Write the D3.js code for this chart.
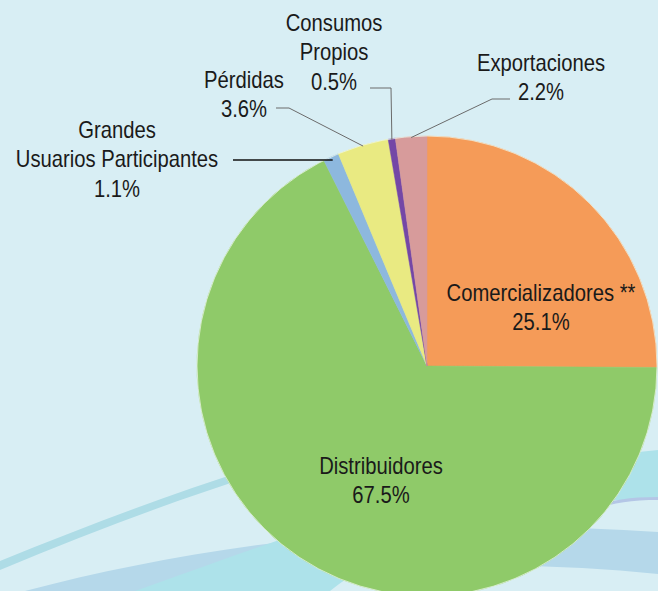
<!DOCTYPE html>
<html>
<head>
<meta charset="utf-8">
<script src="https://cdn.jsdelivr.net/npm/d3@7"></script>
<style>
  html, body { margin: 0; padding: 0; background: #d8eef4; }
  svg { display: block; }
  .lbl { font-family: "Liberation Sans", Arial, sans-serif; font-size: 23px; fill: #1a1a1a; }
</style>
</head>
<body>
<div id="chart"></div>
<script>
// slice data, clockwise from 12 o'clock
var categories = ["Comercializadores", "Distribuidores", "Grandes Usuarios Participantes", "Pérdidas", "Consumos Propios", "Exportaciones"];
var shares = [25.1, 67.5, 1.1, 3.6, 0.5, 2.2];
var labelLines = [
  ["Comercializadores **", "25.1%"],
  ["Distribuidores", "67.5%"],
  ["Grandes", "Usuarios Participantes", "1.1%"],
  ["Pérdidas", "3.6%"],
  ["Consumos", "Propios", "0.5%"],
  ["Exportaciones", "2.2%"]
];
var colors = ["#f59b58", "#8fca69", "#8db8de", "#e9ea82", "#7447a6", "#d79b9b"];

var frame = { width: 658, height: 591 },
  cx = 427,
  cy = 366,
  radius = 230,
  lineHeight = 29.5,
  squeeze = 0.88; // condensed look of the original font

// label layout: block centre x, first baseline y
var labelPos = [
  { x: 541, y: 301 },
  { x: 381, y: 474 },
  { x: 117, y: 138 },
  { x: 244, y: 88 },
  { x: 334, y: 31 },
  { x: 541, y: 71 }
];
// leader lines: points before the arc end point (null = none)
var leaders = [
  null,
  null,
  { pts: [[233, 160]], color: "#111", width: 1.4 },
  { pts: [[276, 108], [289, 108]], color: "#6b6b6b", width: 1 },
  { pts: [[370, 88], [391, 88]], color: "#6b6b6b", width: 1 },
  { pts: [[510, 99], [492, 99]], color: "#6b6b6b", width: 1 }
];

var svg = d3.select('#chart').append('svg')
  .attr('width', frame.width)
  .attr('height', frame.height);

svg.append('rect')
  .attr('width', frame.width)
  .attr('height', frame.height)
  .attr('fill', '#d8eef4');

//decorative swooshes in the background
var swoosh = svg.append('g');
swoosh.append('path')
  .attr('d', 'M0,561 C150,500 300,445 470,415 L470,423 C300,452 150,508 0,570 Z')
  .attr('fill', '#aedce6');
swoosh.append('path')
  .attr('d', 'M25,591 C200,545 420,515 658,532 L658,574 C480,556 300,568 210,591 Z')
  .attr('fill', '#b5d8ea');
swoosh.append('path')
  .attr('d', 'M135,591 C260,548 450,470 658,450 L658,500 C560,497 420,520 330,591 Z')
  .attr('fill', '#ade2ea');
swoosh.append('path')
  .attr('d', 'M590,508 C610,500 630,497 658,497 L658,500 C630,500 610,503 590,512 Z')
  .attr('fill', '#b4c6e6');

var pie = d3.pie().sort(null).value(function (d) { return d; });
var arcs = pie(shares);

var arc = d3.arc()
  .innerRadius(0)
  .outerRadius(radius);

var g = svg.append('g')
  .attr('transform', 'translate(' + cx + ',' + cy + ')');

g.selectAll('path.slice')
  .data(arcs)
  .enter().append('path')
  .attr('class', 'slice')
  .attr('d', arc)
  .attr('fill', function (d, i) { return colors[i]; })
  .attr('stroke', function (d, i) { return colors[i]; })
  .attr('stroke-width', 0.5);

// faint outer rim
g.append('circle')
  .attr('r', radius)
  .attr('fill', 'none')
  .attr('stroke', '#eef6e8')
  .attr('stroke-width', 1)
  .attr('opacity', 0.7);

//leader lines to the rim of the small slices
arcs.forEach(function (d, i) {
  var l = leaders[i];
  if (!l) return;
  var mid = (d.startAngle + d.endAngle) / 2;
  var end = [cx + Math.sin(mid) * (radius - 1), cy - Math.cos(mid) * (radius - 1)];
  var pts = l.pts.slice();
  if (i === 2) {
    end = [cx + Math.sin(mid) * (radius - 4), pts[0][1]];
  }
  pts.push(end);
  svg.append('path')
    .attr('d', d3.line()(pts))
    .attr('fill', 'none')
    .attr('stroke', l.color)
    .attr('stroke-width', l.width);
});

//labels
labelLines.forEach(function (lines, i) {
  var t = svg.append('text')
    .attr('class', 'lbl')
    .attr('text-anchor', 'middle')
    .attr('transform', 'translate(' + labelPos[i].x + ',' + labelPos[i].y + ') scale(' + squeeze + ',1)');
  lines.forEach(function (s, k) {
    t.append('tspan')
      .attr('x', 0)
      .attr('dy', k === 0 ? 0 : lineHeight)
      .text(s);
  });
});
</script>
</body>
</html>
